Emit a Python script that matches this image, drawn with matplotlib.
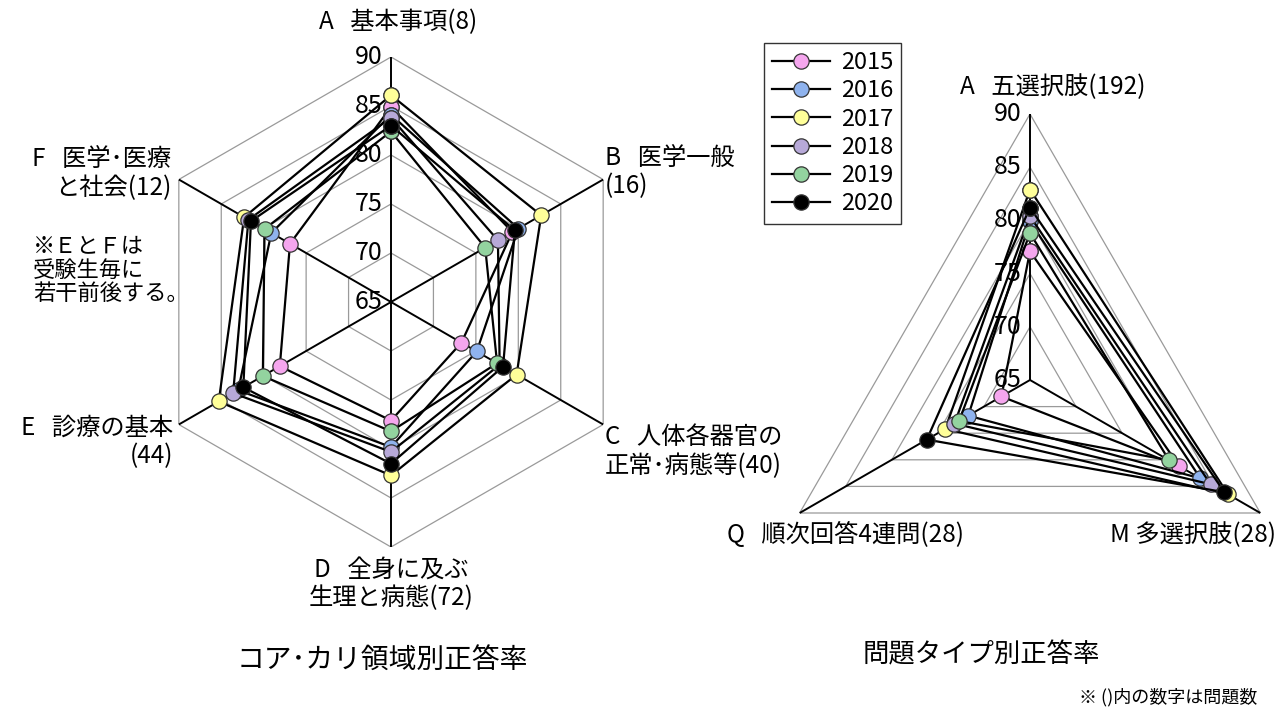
import numpy as np
import matplotlib
matplotlib.use('Agg')
import matplotlib.pyplot as plt

plt.rcParams['font.family'] = ['Noto Sans CJK JP', 'DejaVu Sans']

years = ['2015', '2016', '2017', '2018', '2019', '2020']
colors = ['#F5A6EE', '#8FB3EE', '#FFFF99', '#B7A9D8', '#93D39F', '#000000']

# core curriculum areas, clockwise from top: A B C D E F
core_vals = {
    '2015': [84.9, 79.3, 73.3, 77.1, 78.1, 76.9],
    '2016': [84.1, 80.0, 75.1, 79.8, 83.0, 79.1],
    '2017': [86.1, 82.7, 79.8, 82.7, 85.3, 82.3],
    '2018': [83.8, 77.6, 77.8, 80.3, 83.6, 81.8],
    '2019': [82.4, 76.1, 77.5, 78.2, 80.1, 79.9],
    '2020': [83.0, 79.6, 78.2, 81.5, 82.4, 81.5],
}
# question types, clockwise from top: A M Q
type_vals = {
    '2015': [77.1, 81.2, 68.1],
    '2016': [79.9, 83.5, 71.7],
    '2017': [82.9, 86.5, 74.2],
    '2018': [80.4, 84.6, 73.2],
    '2019': [78.8, 80.1, 72.7],
    '2020': [81.2, 86.1, 76.2],
}
levels = [65, 70, 75, 80, 85, 90]

W, H = 1285, 710


def px(x, y):
    return x / W, 1 - y / H


def radar(ax, data, n):
    theta = np.linspace(0, 2 * np.pi, n, endpoint=False)
    tc = np.append(theta, theta[0])
    ax.set_theta_zero_location('N')
    ax.set_theta_direction(-1)
    ax.set_ylim(levels[0], levels[-1])
    ax.set_axis_off()
    # polygon grid
    for lv in levels[1:]:
        ax.plot(tc, [lv] * (n + 1), color='#9a9a9a', lw=0.9, zorder=1)
    for t in theta:
        ax.plot([t, t], [levels[0], levels[-1]], color='black', lw=1.4, zorder=2)
    for lv in levels:
        ax.annotate(str(lv), xy=(0, lv), xytext=(-6, 0), textcoords='offset points',
                    ha='right', va='center', fontsize=18, zorder=3)
    handles = []
    for i, y in enumerate(years):
        v = data[y]
        h, = ax.plot(tc, v + v[:1], color='black', lw=1.6, marker='o', ms=11,
                     mfc=colors[i], mec='#333333', mew=0.9, zorder=4 + i, label=y)
        handles.append(h)
    return handles


fig = plt.figure(figsize=(W / 100, H / 100), dpi=100)

ax1 = fig.add_axes([146 / W, (H - 302 - 245) / H, 490 / W, 490 / H], projection='polar')
handles = radar(ax1, core_vals, 6)

ax2 = fig.add_axes([(1030 - 266) / W, (H - 380 - 266) / H, 532 / W, 532 / H], projection='polar')
radar(ax2, type_vals, 3)

fs = 17.5
ls = 1.15
# left chart labels
fig.text(*px(398, 22), 'A   基本事項(8)', ha='center', va='center', fontsize=fs)
fig.text(*px(605, 172), 'B   医学一般\n(16)', ha='left', va='center', fontsize=fs, linespacing=ls)
fig.text(*px(605, 452), 'C   人体各器官の\n正常･病態等(40)', ha='left', va='center', fontsize=fs, linespacing=ls)
fig.text(*px(391, 584), 'D   全身に及ぶ\n生理と病態(72)', ha='center', va='center', fontsize=fs, linespacing=ls)
fig.text(*px(173, 442), 'E   診療の基本\n(44)', ha='right', va='center', fontsize=fs, linespacing=ls)
fig.text(*px(171, 174), 'F   医学･医療\nと社会(12)', ha='right', va='center', fontsize=fs, linespacing=ls)
fig.text(*px(33, 270), '※ＥとＦは\n受験生毎に\n若干前後する。', ha='left', va='center', fontsize=16,
         linespacing=1.0)

# right chart labels
fig.text(*px(960, 87), 'A   五選択肢(192)', ha='left', va='center', fontsize=fs)
fig.text(*px(727, 535), 'Q   順次回答4連問(28)', ha='left', va='center', fontsize=fs)
fig.text(*px(1276, 535), 'M 多選択肢(28)', ha='right', va='center', fontsize=fs)

# titles
fig.text(*px(382, 660), 'コア･カリ領域別正答率', ha='center', va='center', fontsize=20)
fig.text(*px(981, 655), '問題タイプ別正答率', ha='center', va='center', fontsize=19)
fig.text(*px(1257, 697), '※ ()内の数字は問題数', ha='right', va='center', fontsize=13)

leg = fig.legend(handles=handles, loc='upper left', bbox_to_anchor=px(764, 43),
                 fontsize=17, frameon=True, fancybox=False, edgecolor='black',
                 handlelength=2.45, handletextpad=0.45, labelspacing=0.22,
                 borderpad=0.35, borderaxespad=0)
leg.get_frame().set_linewidth(1.0)

fig.savefig('out.png', dpi=100)
